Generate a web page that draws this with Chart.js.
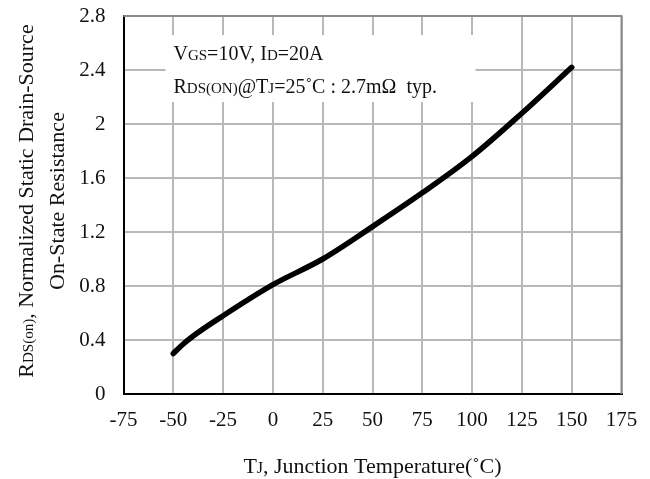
<!DOCTYPE html>
<html>
<head>
<meta charset="utf-8">
<script src="https://cdn.jsdelivr.net/npm/chart.js@4.4.1/dist/chart.umd.min.js"></script>
<style>
  html, body { margin: 0; padding: 0; background: #fff; }
  #wrap { width: 650px; height: 479px; }
</style>
</head>
<body>
<div id="wrap"><canvas id="chart" width="650" height="479"></canvas></div>
<script>
// Junction temperature (°C) and normalized RDS(on)
const temps = [-50, -45, -40, -25, 0, 25, 50, 75, 100, 125, 150];
const rdsNorm = [0.30, 0.37, 0.43, 0.58, 0.81, 1.00, 1.24, 1.49, 1.76, 2.08, 2.42];

const xTickValues = [-75, -50, -25, 0, 25, 50, 75, 100, 125, 150, 175];
const yTickValues = [0, 0.4, 0.8, 1.2, 1.6, 2, 2.4, 2.8];

const SERIF = '"Liberation Serif", "Times New Roman", serif';
const INK = '#111';

// draw a row of text pieces with different font sizes on one baseline
function drawRuns(ctx, parts, x, y, align) {
  let total = 0;
  parts.forEach(p => {
    ctx.font = p.s + 'px ' + SERIF;
    p.w = ctx.measureText(p.t).width;
    total += p.w;
  });
  let cx = align === 'center' ? x - total / 2 : x;
  ctx.textAlign = 'left';
  ctx.textBaseline = 'alphabetic';
  parts.forEach(p => {
    ctx.font = p.s + 'px ' + SERIF;
    ctx.fillText(p.t, cx, y);
    cx += p.w;
  });
}

const labelsPlugin = {
  id: 'labelsPlugin',
  afterDraw(chart) {
    const { ctx, chartArea: a } = chart;
    ctx.save();

    // top and right frame
    ctx.strokeStyle = '#8a8a8a';
    ctx.lineWidth = 2;
    ctx.beginPath();
    ctx.moveTo(a.left, a.top);
    ctx.lineTo(a.right, a.top);
    ctx.lineTo(a.right, a.bottom);
    ctx.stroke();

    // test condition box
    const bx = a.left + 42, by = a.top + 19;
    ctx.fillStyle = '#fff';
    ctx.fillRect(bx, by, 310, 67);
    ctx.fillStyle = INK;
    drawRuns(ctx, [
      { t: 'V', s: 20 }, { t: 'GS', s: 15 }, { t: '=10V, I', s: 20 },
      { t: 'D', s: 15 }, { t: '=20A', s: 20 }
    ], bx + 8, by + 25);
    drawRuns(ctx, [
      { t: 'R', s: 20 }, { t: 'DS(ON)', s: 15 }, { t: '@T', s: 20 },
      { t: 'J', s: 15 }, { t: '=25˚C : 2.7m', s: 20 }, { t: 'Ω  typ.', s: 20 }
    ], bx + 8, by + 58);

    // x axis title
    drawRuns(ctx, [
      { t: 'T', s: 22 }, { t: 'J', s: 16 }, { t: ', Junction Temperature(˚C)', s: 22 }
    ], (a.left + a.right) / 2, 473, 'center');

    // y axis title, two lines
    const cy = (a.top + a.bottom) / 2 - 4;
    ctx.save();
    ctx.translate(33, cy);
    ctx.rotate(-Math.PI / 2);
    drawRuns(ctx, [
      { t: 'R', s: 22 }, { t: 'DS(on)', s: 15 }, { t: ', Normalized Static Drain-Source', s: 22 }
    ], 0, 0, 'center');
    ctx.restore();
    ctx.save();
    ctx.translate(64, cy);
    ctx.rotate(-Math.PI / 2);
    drawRuns(ctx, [{ t: 'On-State Resistance', s: 22 }], 0, 0, 'center');
    ctx.restore();

    ctx.restore();
  }
};

new Chart(document.getElementById('chart'), {
  type: 'line',
  data: {
    datasets: [{
      data: temps.map((t, i) => ({ x: t, y: rdsNorm[i] })),
      borderColor: '#000',
      borderWidth: 5.5,
      borderCapStyle: 'round',
      borderJoinStyle: 'round',
      cubicInterpolationMode: 'monotone',
      pointRadius: 0,
      fill: false
    }]
  },
  options: {
    responsive: false,
    animation: false,
    layout: { padding: { left: 0, right: 28.5, top: 16, bottom: 0 } },
    plugins: {
      legend: { display: false },
      tooltip: { enabled: false }
    },
    scales: {
      x: {
        type: 'linear',
        min: -75,
        max: 175,
        afterBuildTicks: (axis) => { axis.ticks = xTickValues.map(v => ({ value: v })); },
        afterFit: (scale) => {
          scale.height = 85;
          scale.paddingLeft = 0;
          scale.paddingRight = 0;
        },
        grid: { color: '#b8b8b8', lineWidth: 2, drawTicks: false },
        border: { color: '#000', width: 2 },
        ticks: {
          padding: 14,
          maxRotation: 0,
          color: INK,
          font: { family: SERIF, size: 21 },
          callback: (v) => String(v)
        }
      },
      y: {
        min: 0,
        max: 2.8,
        afterBuildTicks: (axis) => { axis.ticks = yTickValues.map(v => ({ value: v })); },
        afterFit: (scale) => {
          scale.width = 123.5;
          scale.paddingTop = 0;
          scale.paddingBottom = 0;
        },
        grid: { color: '#b8b8b8', lineWidth: 2, drawTicks: false },
        border: { color: '#000', width: 2 },
        ticks: {
          padding: 18,
          color: INK,
          font: { family: SERIF, size: 21 },
          callback: (v) => String(v)
        }
      }
    }
  },
  plugins: [labelsPlugin]
});
</script>
</body>
</html>
